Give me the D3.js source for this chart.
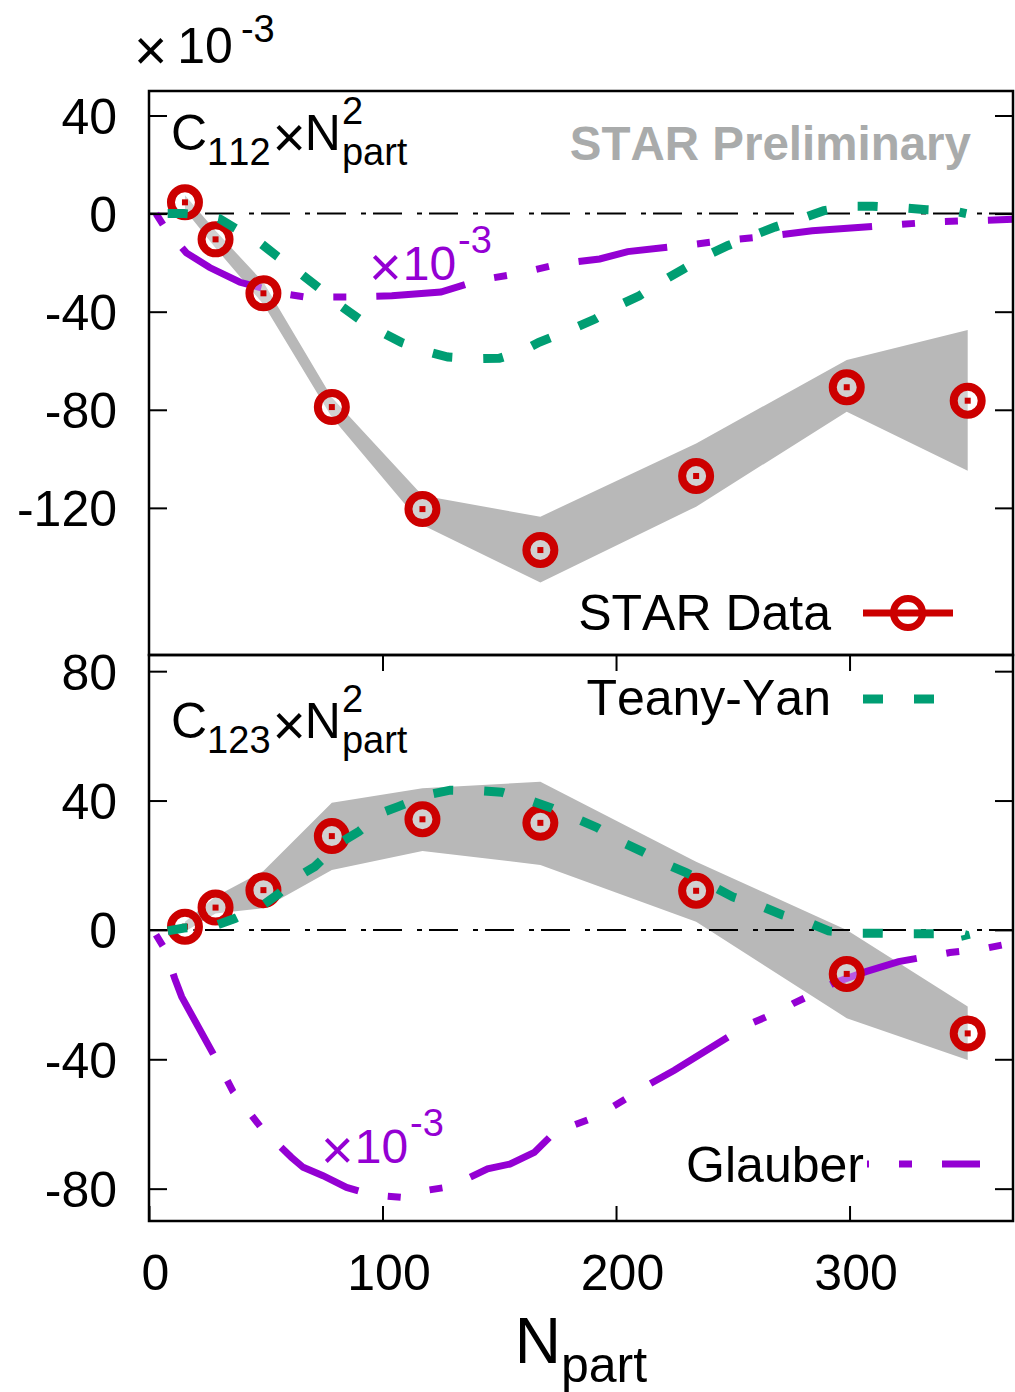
<!DOCTYPE html>
<html>
<head>
<meta charset="utf-8">
<script src="https://cdn.jsdelivr.net/npm/d3@7"></script>
<style>
  body { margin: 0; background: #fff; }
  svg text { font-family: "Liberation Sans", Arial, Helvetica, sans-serif; font-kerning: none; }
</style>
</head>
<body>
<svg id="chart" width="1015" height="1392"></svg>
<script>
// ---- data -------------------------------------------------------------
// centrality classes (number of participants)
const npart = [15.4, 28.5, 49, 78.3, 117.1, 167.6, 234.3, 298.8, 350.6];

// STAR C112 x Npart^2 (x 10^-3), with systematic band
const c112     = [4.6, -10.5, -32.5, -78.9, -120.5, -137.2, -107, -70.8, -76.3];
const c112Low  = [1.5, -14, -37, -83, -127, -150.4, -119.5, -80.8, -104.9];
const c112High = [7.5, -7, -28, -75, -115, -123.6, -93.7, -59.7, -47.5];

// STAR C123 x Npart^2 (x 10^-3), with systematic band
const c123     = [1.0, 6.9, 12.3, 29.0, 34.2, 33.1, 12.1, -13.6, -32.0];
const c123Low  = [-0.5, 5.1, 6.7, 18.5, 24.4, 20.1, 2.5, -27.3, -40.2];
const c123High = [2.5, 10.3, 18.2, 39.3, 43.8, 45.8, 21.1, 0, -23.7];

// Teany-Yan prediction, C112 panel
const ty112N = [8, 15, 22, 30, 37, 47, 55, 65, 73, 82, 90, 100, 108, 120, 128, 140, 150, 160, 167, 180, 191, 201, 210, 220, 229, 239, 248, 259, 268, 280, 289, 300, 310, 322, 333, 344, 350];
const ty112V = [0, 0, -0.5, -2, -6, -11.5, -17.5, -24.5, -30.5, -37.5, -43, -48.5, -52.5, -56.5, -58.5, -59.2, -59, -56, -52.5, -47.5, -43, -37.5, -33.5, -27.5, -22.5, -17, -13, -8.8, -5.5, -1.8, 1.2, 3, 3, 2.4, 1.6, 1.2, 0];

// Teany-Yan prediction, C123 panel
const ty123N = [8, 15, 22, 29, 37, 49, 55, 65, 71, 82, 90, 100, 107, 120, 129, 142, 151, 164, 172, 184, 192, 203, 211, 222, 230, 242, 250, 262, 271, 283, 291, 303, 312, 326, 334, 348, 349.5, 350];
const ty123V = [-0.3, 0.6, 0.8, 1.5, 3.6, 7.8, 10.9, 17, 19.6, 27, 30.5, 36.3, 38.2, 41.9, 43.2, 43, 42.6, 39.8, 37.8, 34.1, 31.6, 27, 24.3, 20.2, 17.7, 13.3, 10.2, 7.4, 4.7, 2.1, -0.3, -1, -1, -1.2, -1.2, -1.2, -1.5, -3];

// Glauber estimate (scaled by 10^-3), C112 panel
const gl112N = [3, 7, 16, 26, 39, 51, 60, 67, 87, 104, 125, 142, 158, 176, 193, 205, 231, 248, 267, 284, 322, 338, 358, 370];
const gl112V = [0, -6, -16, -22, -28, -31, -33, -34, -34, -33.5, -32, -27, -24.5, -20.5, -18.5, -15.5, -12.8, -10.8, -9, -7, -4.4, -3.3, -2.7, -2.3];

// Glauber estimate (scaled by 10^-3), C123 panel
const gl123N = [3, 7, 11, 14, 29, 36, 49, 61, 66, 74.5, 84.6, 95.3, 108, 114, 127, 133, 145, 154.5, 165, 174.5, 178, 191, 196, 208, 213.5, 225, 256, 271, 276, 288, 293, 307, 321, 343, 357, 363, 370];
const gl123V = [-1.5, -6.2, -15, -20.7, -40.3, -50, -62, -70.3, -73.4, -76, -79.6, -81.9, -82.7, -81.1, -79.6, -78, -73.9, -72.4, -68.8, -62, -61.4, -57.9, -55.8, -50.6, -48, -43.4, -29.5, -24.8, -22.7, -18.6, -16.5, -12.9, -9.8, -7, -5.9, -5, -4];

// tick values
const xTickVals = [0, 100, 200, 300];
const topYTickVals = [40, 0, -40, -80, -120];
const botYTickVals = [80, 40, 0, -40, -80];

// ---- styling ----------------------------------------------------------
const RED = "#cc0000", GREEN = "#009e73", PURPLE = "#9400d3", BAND = "#b8b8b8";
const FONT = 50, SCRIPT = 38, TIMES = 57;
const TY_DASH = "20,31";
const GL_DASH = "13,30,90,30,13,30";
const ZERO_DASH = "29,15,5,7";

const svg = d3.select("#chart");
const left = 149, right = 1013;
const x = d3.scaleLinear().domain([0, 370]).range([left, right]);
const yTop = d3.scaleLinear().domain([-180, 50]).range([655, 91]);
const yBot = d3.scaleLinear().domain([-90, 85]).range([1221, 655]);

function zip(a, b) { return a.map((v, i) => [v, b[i]]); }

// text made of pieces (base, sub- and superscripts) laid out left to right
function scripted(parent, x0, y0, pieces, fill) {
  const g = parent.append("g");
  let cx = x0, lastStart = x0;
  pieces.forEach(p => {
    const sx = p.stack ? lastStart : cx + (p.gap || 0);
    const t = g.append("text")
      .attr("x", sx).attr("y", y0 + (p.dy || 0))
      .attr("font-size", p.size).attr("fill", fill || "#000")
      .text(p.t);
    const w = t.node().getComputedTextLength();
    if (!p.stack) { lastStart = sx; cx = sx + w; }
    else { cx = Math.max(cx, sx + w); }
  });
  return g;
}

function panel(cfg) {
  const y = cfg.y;
  const [yb, yt] = y.range();
  const g = svg.append("g");
  const clipId = cfg.id + "-clip";
  svg.append("clipPath").attr("id", clipId)
    .append("rect").attr("x", left).attr("y", yt).attr("width", right - left).attr("height", yb - yt);
  const plot = g.append("g").attr("clip-path", `url(#${clipId})`);

  // systematic band
  const area = d3.area()
    .x((d, i) => x(npart[i]))
    .y0((d, i) => y(cfg.low[i]))
    .y1((d, i) => y(cfg.high[i]));
  plot.append("path").datum(cfg.mid).attr("d", area).attr("fill", BAND);

  // zero reference line
  plot.append("path")
    .datum([[0, 0], [370, 0]])
    .attr("d", d3.line().x(d => x(d[0])).y(d => y(d[1])))
    .attr("stroke", "#000").attr("stroke-width", 2).attr("fill", "none")
    .attr("stroke-dasharray", ZERO_DASH);

  const line = d3.line().x(d => x(d[0])).y(d => y(d[1]));

  // Glauber curve
  plot.append("path").datum(cfg.glau).attr("d", line)
    .attr("fill", "none").attr("stroke", PURPLE).attr("stroke-width", 7)
    .attr("stroke-dasharray", GL_DASH);

  // data markers
  const pts = plot.append("g").selectAll("g").data(cfg.mid).join("g")
    .attr("transform", (d, i) => `translate(${x(npart[i])},${y(d)})`);
  pts.append("circle").attr("r", 14)
    .attr("fill", "rgba(255,255,255,0.35)").attr("stroke", RED).attr("stroke-width", 8);
  pts.append("rect").attr("x", -3).attr("y", -3).attr("width", 6).attr("height", 6).attr("fill", RED);

  // Teany-Yan curve
  plot.append("path").datum(cfg.ty).attr("d", line)
    .attr("fill", "none").attr("stroke", GREEN).attr("stroke-width", 9)
    .attr("stroke-dasharray", TY_DASH);

  // y axes (ticks inside, labels on the left)
  const ax = g.append("g").attr("transform", `translate(${left},0)`)
    .call(d3.axisLeft(y).tickValues(cfg.ticks).tickSizeInner(-18).tickSizeOuter(0)
      .tickPadding(32).tickFormat(d => String(d)));
  const ax2 = g.append("g").attr("transform", `translate(${right},0)`)
    .call(d3.axisRight(y).tickValues(cfg.ticks).tickSizeInner(-18).tickSizeOuter(0).tickFormat(() => ""));
  [ax, ax2].forEach(a => {
    a.select(".domain").remove();
    a.selectAll("line").attr("stroke", "#000").attr("stroke-width", 2);
    a.selectAll("text").attr("font-size", FONT).attr("fill", "#000")
      .attr("font-family", null).attr("dy", "0.36em");
  });
  return g;
}

panel({ id: "c112", y: yTop, ticks: topYTickVals, mid: c112, low: c112Low, high: c112High,
  ty: zip(ty112N, ty112V), glau: zip(gl112N, gl112V) });
panel({ id: "c123", y: yBot, ticks: botYTickVals, mid: c123, low: c123Low, high: c123High,
  ty: zip(ty123N, ty123V), glau: zip(gl123N, gl123V) });

// x axis of the lower panel
const xa = svg.append("g").attr("transform", "translate(0,1221)")
  .call(d3.axisBottom(x).tickValues(xTickVals).tickSizeInner(-15).tickSizeOuter(0)
    .tickPadding(33).tickFormat(d => String(d)));
xa.select(".domain").remove();
xa.selectAll("line").attr("stroke", "#000").attr("stroke-width", 2);
xa.selectAll("text").attr("font-size", FONT).attr("fill", "#000").attr("font-family", null).attr("x", 6);

// mirrored x ticks along the shared border
const xm = svg.append("g").attr("transform", "translate(0,655)")
  .call(d3.axisTop(x).tickValues(xTickVals.slice(1)).tickSizeInner(-16).tickSizeOuter(0).tickFormat(() => ""));
xm.select(".domain").remove();
xm.selectAll("line").attr("stroke", "#000").attr("stroke-width", 2);

// panel frames
[[91, 655], [655, 1221]].forEach(([a, b]) => {
  svg.append("rect").attr("x", left).attr("y", a).attr("width", right - left).attr("height", b - a)
    .attr("fill", "none").attr("stroke", "#000").attr("stroke-width", 2.5);
});

// ---- annotations ------------------------------------------------------
// global scale factor
scripted(svg, 134, 63, [
  { t: "\u00d7", size: TIMES, dy: 6.5 },
  { t: "10", size: FONT, gap: 10 },
  { t: "-3", size: SCRIPT, dy: -21, gap: 8 }
]);

// panel titles
function title(y0, idx) {
  scripted(svg, 171, y0, [
    { t: "C", size: FONT },
    { t: idx, size: SCRIPT, dy: 14.5 },
    { t: "\u00d7", size: TIMES, dy: 6.5, gap: 2 },
    { t: "N", size: FONT, gap: -1 },
    { t: "2", size: SCRIPT, dy: -26.5, gap: 1 },
    { t: "part", size: SCRIPT, dy: 14.5, stack: true }
  ]);
}
title(150, "112");
title(738, "123");

// Glauber scale notes
function glauberScale(x0, y0) {
  scripted(svg, x0, y0, [
    { t: "\u00d7", size: 56, dy: 6 },
    { t: "10", size: 48, gap: 1 },
    { t: "-3", size: SCRIPT, dy: -27, gap: 2 }
  ], PURPLE);
}
glauberScale(369, 280);
glauberScale(321, 1163);

// preliminary tag
svg.append("text").attr("x", 971).attr("y", 160).attr("text-anchor", "end")
  .attr("font-size", 47.5).attr("font-weight", "bold").attr("fill", "#a9abab")
  .text("STAR Preliminary");

// ---- legends ----------------------------------------------------------
function legendText(xEnd, y0, label) {
  svg.append("text").attr("x", xEnd).attr("y", y0).attr("text-anchor", "end")
    .attr("font-size", FONT).attr("fill", "#000").text(label);
}
legendText(831, 630, "STAR Data");
svg.append("line").attr("x1", 863).attr("x2", 953).attr("y1", 613).attr("y2", 613)
  .attr("stroke", RED).attr("stroke-width", 7);
svg.append("circle").attr("cx", 908).attr("cy", 613).attr("r", 14.5)
  .attr("fill", "none").attr("stroke", RED).attr("stroke-width", 7);

legendText(831, 715, "Teany-Yan");
svg.append("line").attr("x1", 863).attr("x2", 953).attr("y1", 699).attr("y2", 699)
  .attr("stroke", GREEN).attr("stroke-width", 9).attr("stroke-dasharray", TY_DASH);

legendText(864, 1182, "Glauber");
svg.append("line").attr("x1", 867).attr("x2", 980).attr("y1", 1164).attr("y2", 1164)
  .attr("stroke", PURPLE).attr("stroke-width", 7)
  .attr("stroke-dasharray", GL_DASH).attr("stroke-dashoffset", 174);

// x axis title
const xt = scripted(svg, 0, 1363, [
  { t: "N", size: 64 },
  { t: "part", size: 50, dy: 19 }
]);
const bb = xt.node().getBBox();
xt.attr("transform", `translate(${(left + right) / 2 - bb.width / 2},0)`);
</script>
</body>
</html>
